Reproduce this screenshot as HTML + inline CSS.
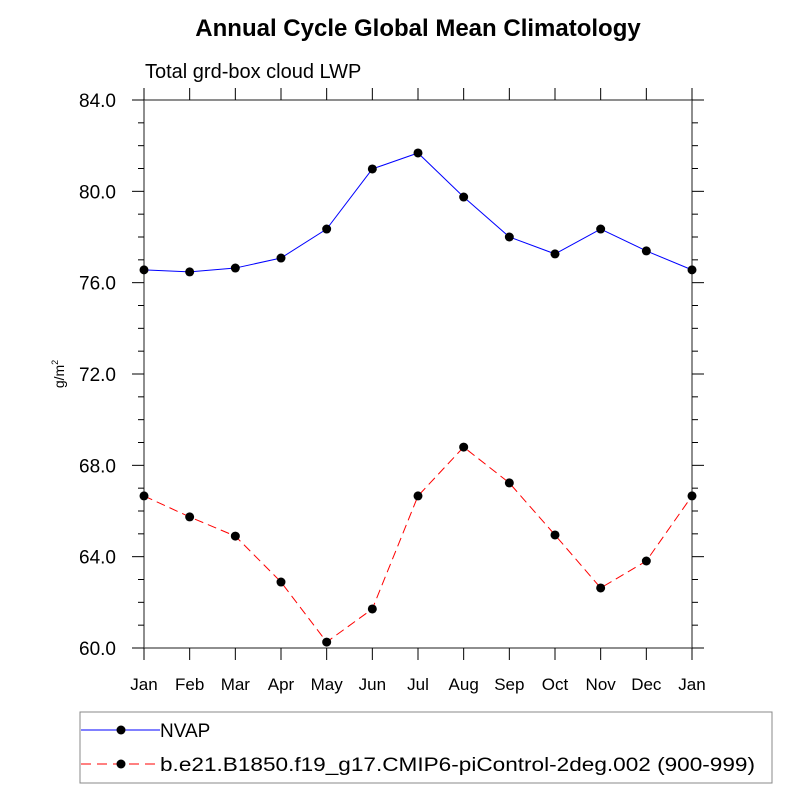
<!DOCTYPE html>
<html><head><meta charset="utf-8"><style>
body{margin:0;background:#fff}
svg text{font-family:"Liberation Sans",sans-serif}
</style></head><body>
<svg id="chart" width="800" height="800" xmlns="http://www.w3.org/2000/svg">
<text x="418" y="36" font-size="24" font-weight="bold" text-anchor="middle">Annual Cycle Global Mean Climatology</text>
<text x="145" y="78" font-size="20">Total grd-box cloud LWP</text>
<text transform="translate(64,374) rotate(-90)" font-size="14" text-anchor="middle">g/m<tspan dy="-6" font-size="9">2</tspan></text>
<g id="axes"></g>
<g id="series"></g>
<g>
<rect x="80" y="712" width="692" height="71" fill="none" stroke="#888" stroke-width="1"/>
<line x1="81" y1="730" x2="160" y2="730" stroke="#0000ff" stroke-width="1"/>
<circle cx="121" cy="730" r="4.5" fill="#000"/>
<text x="160" y="737" font-size="19">NVAP</text>
<line x1="81" y1="764" x2="160" y2="764" stroke="#ff0000" stroke-width="1" stroke-dasharray="10,6"/>
<circle cx="121" cy="764" r="4.5" fill="#000"/>
<text x="160" y="771" font-size="19" textLength="595" lengthAdjust="spacingAndGlyphs">b.e21.B1850.f19_g17.CMIP6-piControl-2deg.002 (900-999)</text>
</g>
</svg>
<script>
const months=["Jan","Feb","Mar","Apr","May","Jun","Jul","Aug","Sep","Oct","Nov","Dec","Jan"];
const nvap=[76.56,76.47,76.64,77.08,78.35,80.98,81.68,79.75,78.0,77.26,78.35,77.39,76.56];
const model=[66.66,65.74,64.9,62.89,60.26,61.71,66.66,68.8,67.23,64.95,62.63,63.81,66.66];
const yTicks=[60,64,68,72,76,80,84];
const yTickLabels=["60.0","64.0","68.0","72.0","76.0","80.0","84.0"];
const NS="http://www.w3.org/2000/svg";
const L=144,R=692,T=100,B=648,ymin=60,ymax=84;
const xs=i=>L+(R-L)*i/(months.length-1);
const ys=v=>B-(v-ymin)/(ymax-ymin)*(B-T);
function mk(tag,attrs,parent){const e=document.createElementNS(NS,tag);for(const k in attrs)e.setAttribute(k,attrs[k]);parent.appendChild(e);return e;}
const ax=document.getElementById('axes');
const frame=mk('rect',{x:L,y:T,width:R-L,height:B-T,fill:'none',stroke:'#444','stroke-width':1.2},ax);


for(let v=ymin;v<=ymax;v++){
  const maj=yTicks.includes(v),len=maj?12:6,y=ys(v);
  mk('line',{x1:L-len,y1:y,x2:L,y2:y,stroke:'#000'},ax);
  mk('line',{x1:R,y1:y,x2:R+len,y2:y,stroke:'#000'},ax);
}
yTicks.forEach((v,i)=>{
  const t=mk('text',{x:L-28,y:ys(v)+7,'font-size':19,'text-anchor':'end'},ax);
  t.textContent=yTickLabels[i];
  
  
});
months.forEach((m,i)=>{
  const x=xs(i);
  mk('line',{x1:x,y1:B,x2:x,y2:B+12,stroke:'#000'},ax);
  mk('line',{x1:x,y1:T,x2:x,y2:T-12,stroke:'#000'},ax);
  const t=mk('text',{x:x,y:690,'font-size':17,'text-anchor':'middle'},ax);
  t.textContent=m;
  
  
});
const sg=document.getElementById('series');
function draw(vals,color,dash,name){
  const pts=vals.map((v,i)=>xs(i)+','+ys(v)).join(' ');
  const pl=mk('polyline',{points:pts,fill:'none',stroke:color,'stroke-width':1,'stroke-dasharray':dash},sg);
  
  
  vals.forEach((v,i)=>{
    const c=mk('circle',{cx:xs(i),cy:ys(v),r:4.5,fill:'#000'},sg);
    
    
  });
}
draw(nvap,'#0000ff','none','nvap');
draw(model,'#ff0000','9,5','model');
</script>
</body></html>
